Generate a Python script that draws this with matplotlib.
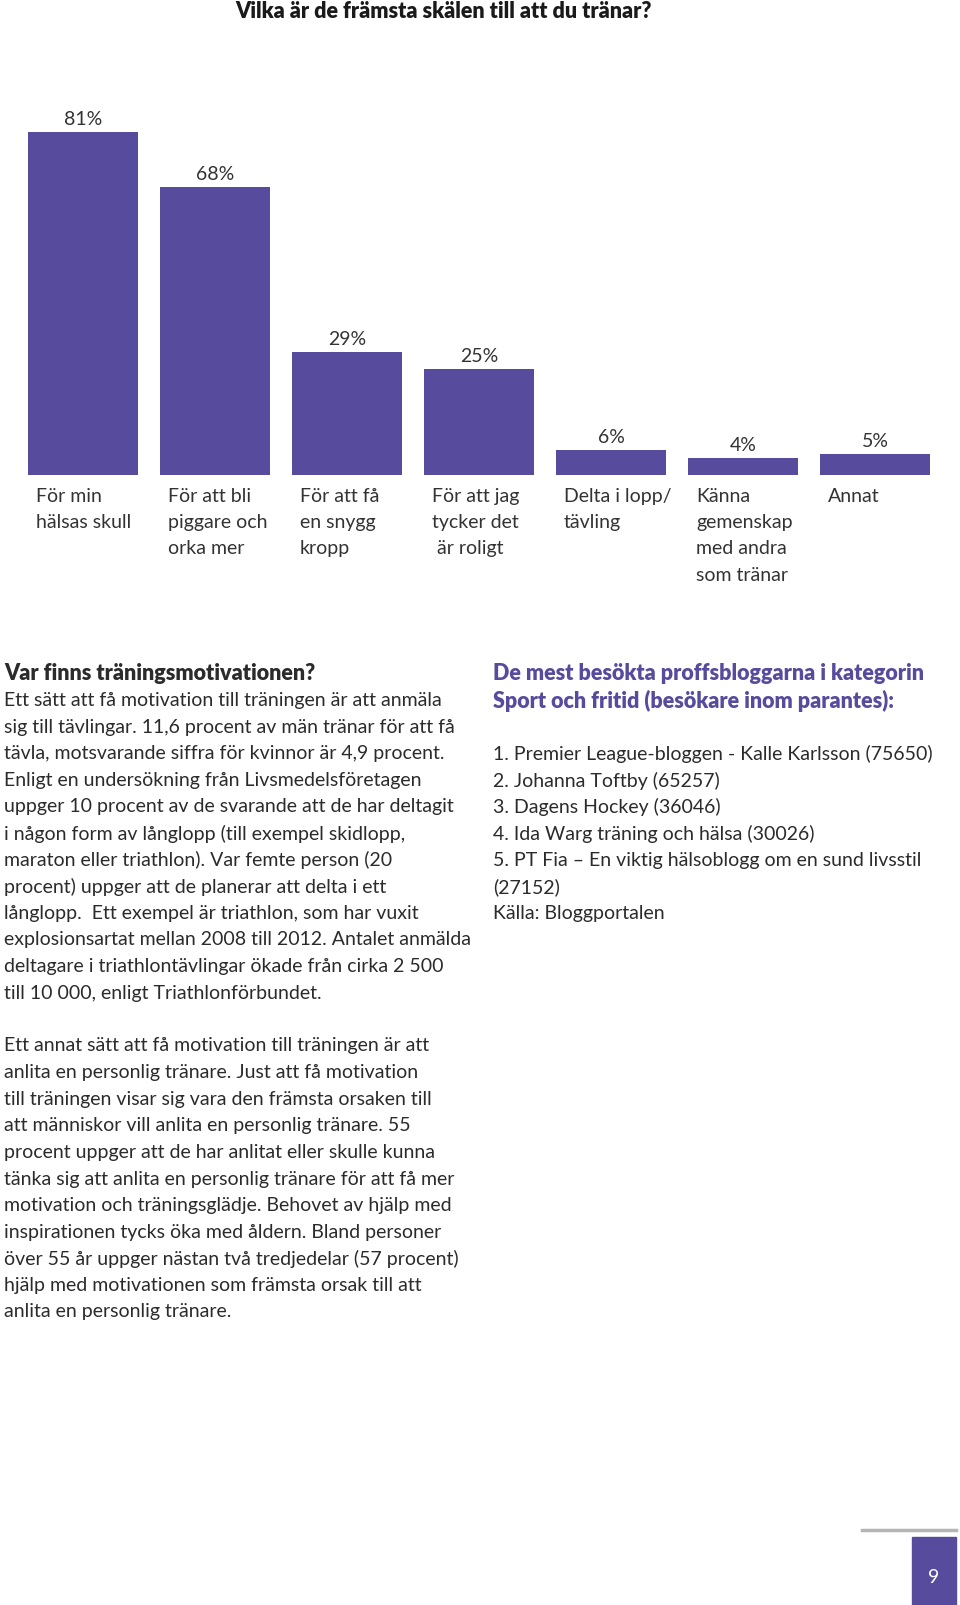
"""Training motivation page: bar chart plus two text columns."""

import matplotlib
matplotlib.use("Agg")
import matplotlib.pyplot as plt

PURPLE = "#574b9d"
TEXT = "#2b2b2b"

title = "Vilka är de främsta skälen till att du tränar?"
categories = [
    "För min\nhälsas skull",
    "För att bli\npiggare och\norka mer",
    "För att få\nen snygg\nkropp",
    "För att jag\ntycker det\n är roligt",
    "Delta i lopp/\ntävling",
    "Känna\ngemenskap\nmed andra\nsom tränar",
    "Annat",
]
values = [81, 68, 29, 25, 6, 4, 5]

left_heading = "Var finns träningsmotivationen?"
left_lines = [
    "Ett sätt att få motivation till träningen är att anmäla",
    "sig till tävlingar. 11,6 procent av män tränar för att få",
    "tävla, motsvarande siffra för kvinnor är 4,9 procent.",
    "Enligt en undersökning från Livsmedelsföretagen",
    "uppger 10 procent av de svarande att de har deltagit",
    "i någon form av långlopp (till exempel skidlopp,",
    "maraton eller triathlon). Var femte person (20",
    "procent) uppger att de planerar att delta i ett",
    "långlopp.  Ett exempel är triathlon, som har vuxit",
    "explosionsartat mellan 2008 till 2012. Antalet anmälda",
    "deltagare i triathlontävlingar ökade från cirka 2 500",
    "till 10 000, enligt Triathlonförbundet.",
]
second_lines = [
    "Ett annat sätt att få motivation till träningen är att",
    "anlita en personlig tränare. Just att få motivation",
    "till träningen visar sig vara den främsta orsaken till",
    "att människor vill anlita en personlig tränare. 55",
    "procent uppger att de har anlitat eller skulle kunna",
    "tänka sig att anlita en personlig tränare för att få mer",
    "motivation och träningsglädje. Behovet av hjälp med",
    "inspirationen tycks öka med åldern. Bland personer",
    "över 55 år uppger nästan två tredjedelar (57 procent)",
    "hjälp med motivationen som främsta orsak till att",
    "anlita en personlig tränare.",
]
right_heading = [
    "De mest besökta proffsbloggarna i kategorin",
    "Sport och fritid (besökare inom parantes):",
]
blog_lines = [
    "1. Premier League-bloggen - Kalle Karlsson (75650)",
    "2. Johanna Toftby (65257)",
    "3. Dagens Hockey (36046)",
    "4. Ida Warg träning och hälsa (30026)",
    "5. PT Fia – En viktig hälsoblogg om en sund livsstil",
    "(27152)",
    "Källa: Bloggportalen",
]
page_number = "9"

W, H = 960, 1606
fig = plt.figure(figsize=(W / 100, H / 100), dpi=100)
fig.patch.set_facecolor("white")


def fy(py):
    """Pixel row from the top -> figure fraction."""
    return 1 - py / H


def fx(px):
    return px / W


# --- bar chart -------------------------------------------------------------
ax = fig.add_axes([fx(17), fy(476), fx(924), 423.5 / H])
x = list(range(len(values)))
bw = 0.833
ax.bar(x, values, width=bw, color=PURPLE, edgecolor="none")
ax.set_xlim(-0.5, len(values) - 0.5)
ax.set_ylim(0, 100)
ax.axis("off")

for i, v in enumerate(values):
    ax.annotate(f"{v}%", (i, v), xytext=(0, 5), textcoords="offset pixels",
                ha="center", va="bottom", fontsize=14, color="#333333",
                family="Lato")
    ax.annotate(categories[i], (i - bw / 2, 0), xytext=(8, -12),
                textcoords="offset pixels", ha="left", va="top", fontsize=14,
                color="#333333", family="Lato",
                linespacing=1.66, annotation_clip=False)

fig.text(fx(444), fy(12), title, ha="center", va="center", fontsize=15.5,
         fontweight="heavy", color="#1a1a1a", family="Lato")

# --- text columns ----------------------------------------------------------
LH = 26.6
body_kw = dict(fontsize=14, color=TEXT, family="Lato", va="center", ha="left")
head_kw = {**body_kw, "fontsize": 15.5, "fontweight": "heavy"}

fig.text(fx(4), fy(674), left_heading, **head_kw)
for k, line in enumerate(left_lines):
    fig.text(fx(4), fy(674 + LH * (k + 1)), line, **body_kw)

for k, line in enumerate(second_lines):
    fig.text(fx(4), fy(1046 + LH * k), line, **body_kw)

for k, line in enumerate(right_heading):
    fig.text(fx(493), fy(674 + LH * k), line, **{**head_kw, "color": PURPLE})
for k, line in enumerate(blog_lines):
    fig.text(fx(493), fy(754 + LH * k), line, **body_kw)

# --- page number -----------------------------------------------------------
fig.add_artist(plt.Line2D([fx(862), fx(956)], [fy(1531), fy(1531)],
                          color="#b5b5b5", lw=2.5))
fig.add_artist(plt.Rectangle((fx(912), 0), fx(44), 68 / H, color=PURPLE))
fig.text(fx(934), fy(1578), page_number, ha="center", va="center",
         fontsize=14, color="white", family="Lato")

fig.savefig("out.png", dpi=100)
